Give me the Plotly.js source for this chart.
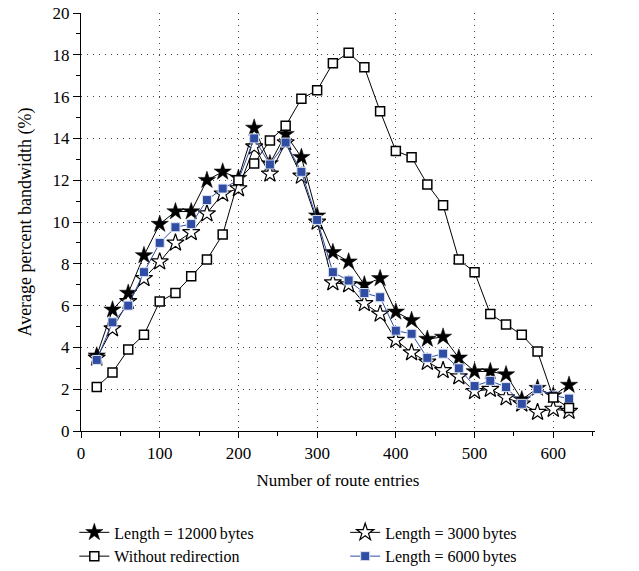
<!DOCTYPE html>
<html>
<head>
<meta charset="utf-8">
<script src="https://cdn.plot.ly/plotly-3.0.1.min.js"></script>
<style>html,body{margin:0;padding:0;background:#fff;}#chart{width:639px;height:571px;}</style>
</head>
<body>
<div id="chart"></div>
<script>
const routeEntries = [20,40,60,80,100,120,140,160,180,200,220,240,260,280,300,320,340,360,380,400,420,440,460,480,500,520,540,560,580,600,620];
const len12000 = [3.6,5.8,6.6,8.4,9.9,10.5,10.5,12.0,12.4,12.1,14.5,12.8,14.2,13.1,10.3,8.55,8.1,7.0,7.3,5.7,5.3,4.4,4.5,3.5,2.85,2.85,2.7,1.5,2.05,1.7,2.2];
const len3000 = [3.5,4.9,6.2,7.3,8.1,9.0,9.5,10.4,11.35,11.6,13.6,12.3,13.8,12.2,10.0,7.1,7.0,6.1,5.6,4.35,3.75,3.3,2.9,2.6,1.9,2.0,1.6,1.3,0.9,1.05,0.95];
const withoutRedirection = [2.1,2.8,3.9,4.6,6.2,6.6,7.4,8.2,9.4,12.0,12.8,13.9,14.6,15.9,16.3,17.6,18.1,17.4,15.3,13.4,13.1,11.8,10.8,8.2,7.6,5.6,5.1,4.6,3.8,1.6,1.1];
const len6000 = [3.4,5.2,6.0,7.6,9.0,9.75,9.9,11.05,11.6,12.0,14.0,12.75,13.8,12.4,10.1,7.6,7.2,6.6,6.4,4.8,4.65,3.5,3.7,3.0,2.15,2.4,2.1,1.3,2.0,1.7,1.55];
const seriesNames = ["Length = 12000\u2009bytes","Length = 3000\u2009bytes","Without redirection","Length = 6000\u2009bytes"];
const yTicks = [0,2,4,6,8,10,12,14,16,18,20];
const xTicks = [0,100,200,300,400,500,600];

const blue = '#2f4ea3';
const axisBlue = '#4a5fb0';
const traces = [
  {x: routeEntries, y: len3000, name: seriesNames[1], mode: 'lines+markers', legend: 'legend2', legendrank: 1,
   line: {color: '#000', width: 1},
   marker: {symbol: 'star', size: 13, color: '#fff', line: {color: '#000', width: 1.2}}},
  {x: routeEntries, y: len12000, name: seriesNames[0], mode: 'lines+markers', legend: 'legend', legendrank: 1,
   line: {color: '#000', width: 1},
   marker: {symbol: 'star', size: 13, color: '#000', line: {color: '#000', width: 0.5}}},
  {x: routeEntries, y: len6000, name: seriesNames[3], mode: 'lines+markers', legend: 'legend2', legendrank: 2,
   line: {color: blue, width: 1},
   marker: {symbol: 'square', size: 9, color: blue, line: {color: '#dde3f3', width: 1}}},
  {x: routeEntries, y: withoutRedirection, name: seriesNames[2], mode: 'lines+markers', legend: 'legend', legendrank: 2,
   line: {color: '#000', width: 1},
   marker: {symbol: 'square', size: 9, color: '#fff', line: {color: '#000', width: 1.5}}}
];

const fam = '"Liberation Serif", "DejaVu Serif", serif';
const legendFont = {family: fam, size: 16, color: '#000'};
const layout = {
  width: 639, height: 571,
  margin: {l: 81, r: 44, t: 13, b: 140, autoexpand: false},
  paper_bgcolor: '#fff', plot_bgcolor: '#fff',
  font: {family: fam, size: 17, color: '#000'},
  showlegend: true,
  legend: {orientation: 'v', x: -0.013, xanchor: 'left', y: -0.202, yanchor: 'top',
           font: legendFont, tracegroupgap: 0, itemwidth: 30, bgcolor: 'rgba(0,0,0,0)'},
  legend2: {orientation: 'v', x: 0.514, xanchor: 'left', y: -0.202, yanchor: 'top',
           font: legendFont, tracegroupgap: 0, itemwidth: 30, bgcolor: 'rgba(0,0,0,0)'},
  xaxis: {range: [0, 653], tickvals: xTicks, ticks: 'outside', ticklen: 6, tickcolor: '#000',
          showline: true, linecolor: '#000', linewidth: 1.2, zeroline: false,
          showgrid: true, gridcolor: '#444', griddash: '1px,5px', gridwidth: 1,
          minor: {dtick: 50, tick0: 0, ticks: 'outside', ticklen: 4, tickcolor: '#000', showgrid: false},
          title: {text: 'Number of route entries', font: {family: fam, size: 17}, standoff: 12},
          tickfont: {family: fam, size: 17}},
  xaxis2: {range: [0, 653], overlaying: 'x', side: 'top', tickvals: xTicks, ticks: 'inside', ticklen: 6,
           tickcolor: '#000', showticklabels: false, showline: true, linecolor: '#000', linewidth: 1.2,
           showgrid: false, zeroline: false,
           minor: {dtick: 50, tick0: 0, ticks: 'inside', ticklen: 4, tickcolor: '#000'}},
  yaxis: {range: [0, 20], tickvals: yTicks, ticks: 'outside', ticklen: 7, tickcolor: '#000',
          showline: true, linecolor: '#000', linewidth: 1.2, zeroline: false,
          showgrid: true, gridcolor: '#444', griddash: '1px,5px', gridwidth: 1,
          minor: {dtick: 1, ticks: 'outside', ticklen: 4, tickcolor: '#000', showgrid: false},
          title: {text: 'Average percent bandwidth (%)', font: {family: fam, size: 18}, standoff: 16},
          tickfont: {family: fam, size: 17}},
  yaxis2: {range: [0, 20], overlaying: 'y', side: 'right', tickvals: yTicks, ticks: 'outside', ticklen: 6,
           tickcolor: axisBlue, showline: true, linecolor: axisBlue, linewidth: 1.2, showgrid: false, zeroline: false,
           minor: {dtick: 1, ticks: 'outside', ticklen: 3, tickcolor: axisBlue},
           tickfont: {family: fam, size: 17, color: axisBlue}}
};
Plotly.newPlot('chart', traces, layout, {displayModeBar: false, staticPlot: true});
</script>
</body>
</html>
